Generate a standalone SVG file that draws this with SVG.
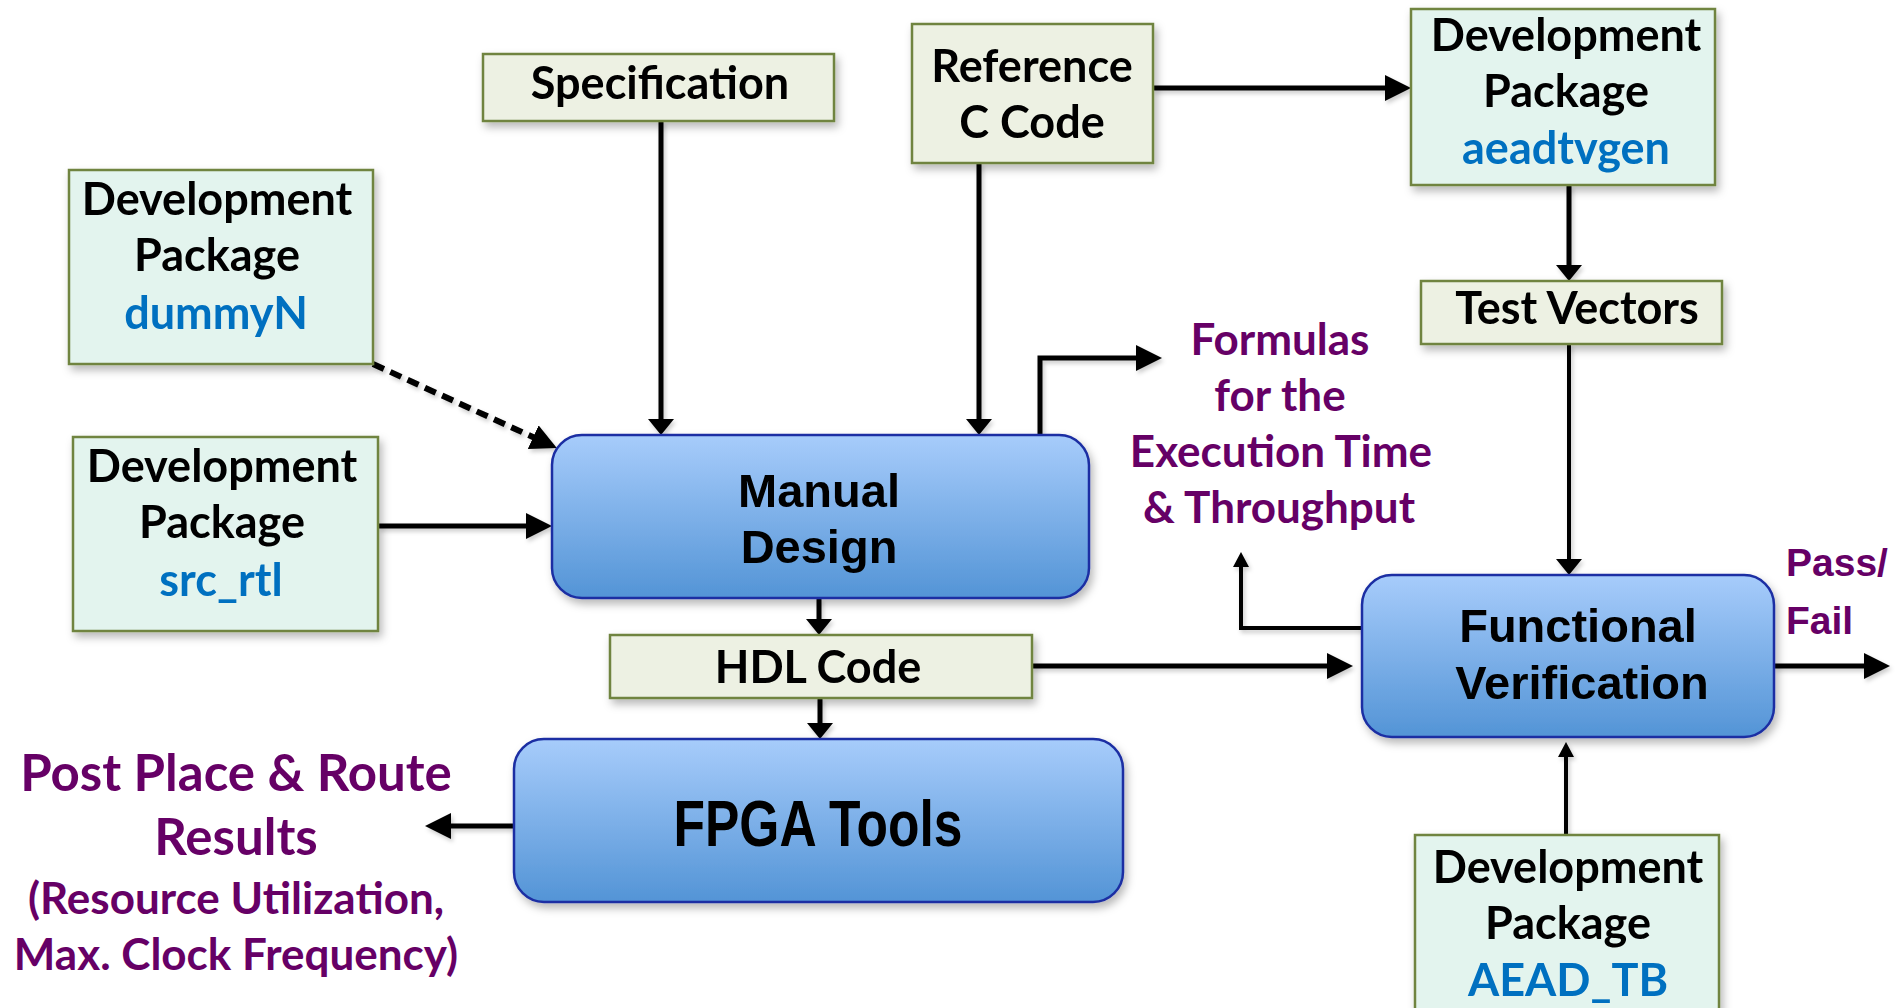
<svg xmlns="http://www.w3.org/2000/svg" width="1904" height="1008" viewBox="0 0 1904 1008">
  <defs>
    <linearGradient id="blueFill" x1="0" y1="0" x2="0" y2="1">
      <stop offset="0" stop-color="#A7CCFB"/>
      <stop offset="1" stop-color="#5394D6"/>
    </linearGradient>
    <filter id="shadow" x="-10%" y="-10%" width="130%" height="140%">
      <feDropShadow dx="3" dy="5" stdDeviation="4" flood-color="#000" flood-opacity="0.28"/>
    </filter>
    <filter id="lineShadow" x="-5%" y="-5%" width="110%" height="110%">
      <feDropShadow dx="2" dy="3" stdDeviation="2" flood-color="#000" flood-opacity="0.2"/>
    </filter>
    <!-- arrowheads: long, short and small -->
    <marker id="headLong" markerUnits="userSpaceOnUse" markerWidth="26" markerHeight="26" refX="2" refY="13" orient="auto">
      <path d="M0,0 L26,13 L0,26 z" fill="#000"/>
    </marker>
    <marker id="headShort" markerUnits="userSpaceOnUse" markerWidth="16" markerHeight="26" refX="2" refY="13" orient="auto">
      <path d="M0,0 L16,13 L0,26 z" fill="#000"/>
    </marker>
    <marker id="headSmall" markerUnits="userSpaceOnUse" markerWidth="15" markerHeight="16" refX="2" refY="8" orient="auto">
      <path d="M0,0 L15,8 L0,16 z" fill="#000"/>
    </marker>
  </defs>
  <style>
    .doc { fill: #EDF1E3; stroke: #6F8440; stroke-width: 2.5; }
    .pkg { fill: #E3F4EE; stroke: #6F8440; stroke-width: 2.5; }
    .proc { fill: url(#blueFill); stroke: #1B2FA3; stroke-width: 2.5; }
    .lbl { font-family: Lato, "Open Sans", sans-serif; font-weight: bold; font-size: 45px; fill: #000; text-anchor: middle; }
    .name { fill: #0070C0; }
    .out { font-family: Lato, "Open Sans", sans-serif; font-weight: bold; fill: #660066; text-anchor: middle; }
    .procLbl { font-family: "Liberation Sans", Arial, sans-serif; font-weight: bold; font-size: 47px; fill: #000; text-anchor: middle; }
    .big { font-size: 64px; }
    .wire { fill: none; stroke: #000; stroke-width: 5; }
    .thin { stroke-width: 4; }
    .dash { stroke-width: 6; stroke-dasharray: 12 7; }
  </style>

  <rect width="1904" height="1008" fill="#FFFFFF"/>

  <!-- connectors -->
  <g id="connectors" filter="url(#lineShadow)">
    <line class="wire" x1="661" y1="121" x2="661" y2="421" marker-end="url(#headShort)"/>
    <line class="wire" x1="979" y1="163" x2="979" y2="421" marker-end="url(#headShort)"/>
    <line class="wire" x1="1153" y1="88" x2="1387" y2="88" marker-end="url(#headLong)"/>
    <line class="wire" x1="1569" y1="185" x2="1569" y2="267" marker-end="url(#headShort)"/>
    <line class="wire thin" x1="1569" y1="344" x2="1569" y2="561" marker-end="url(#headShort)"/>
    <path class="wire" d="M1040,435 V358 H1138" marker-end="url(#headLong)"/>
    <line class="wire dash" x1="373" y1="364" x2="535" y2="438" marker-end="url(#headLong)"/>
    <line class="wire" x1="378" y1="526" x2="528" y2="526" marker-end="url(#headLong)"/>
    <line class="wire" x1="819" y1="598" x2="819" y2="621" marker-end="url(#headShort)"/>
    <line class="wire" x1="820" y1="698" x2="820" y2="725" marker-end="url(#headShort)"/>
    <line class="wire" x1="1032" y1="666" x2="1329" y2="666" marker-end="url(#headLong)"/>
    <path class="wire thin" d="M1362,628 H1241 V565" marker-end="url(#headSmall)"/>
    <line class="wire" x1="1774" y1="666" x2="1866" y2="666" marker-end="url(#headLong)"/>
    <line class="wire thin" x1="1566" y1="835" x2="1566" y2="755" marker-end="url(#headSmall)"/>
    <line class="wire" x1="514" y1="826" x2="449" y2="826" marker-end="url(#headLong)"/>
  </g>

  <g id="specification" filter="url(#shadow)">
    <rect class="doc" x="483" y="54" width="351" height="67"/>
    <text class="lbl" x="660" y="99">Specification</text>
  </g>

  <g id="reference-c-code" filter="url(#shadow)">
    <rect class="doc" x="912" y="24" width="241" height="139"/>
    <text class="lbl" x="1032" y="82">Reference</text>
    <text class="lbl" x="1032" y="138">C Code</text>
  </g>

  <g id="pkg-aeadtvgen" filter="url(#shadow)">
    <rect class="pkg" x="1411" y="9" width="304" height="176"/>
    <text class="lbl" x="1566" y="51">Development</text>
    <text class="lbl" x="1566" y="107">Package</text>
    <text class="lbl name" x="1566" y="164">aeadtvgen</text>
  </g>

  <g id="pkg-dummyN" filter="url(#shadow)">
    <rect class="pkg" x="69" y="170" width="304" height="194"/>
    <text class="lbl" x="217" y="215">Development</text>
    <text class="lbl" x="217" y="271">Package</text>
    <text class="lbl name" x="216" y="329">dummyN</text>
  </g>

  <g id="pkg-src_rtl" filter="url(#shadow)">
    <rect class="pkg" x="73" y="437" width="305" height="194"/>
    <text class="lbl" x="222" y="482">Development</text>
    <text class="lbl" x="222" y="538">Package</text>
    <text class="lbl name" x="221" y="596">src_rtl</text>
  </g>

  <g id="test-vectors" filter="url(#shadow)">
    <rect class="doc" x="1421" y="281" width="301" height="63"/>
    <text class="lbl" x="1577" y="324">Test Vectors</text>
  </g>

  <g id="manual-design" filter="url(#shadow)">
    <rect class="proc" x="552" y="435" width="537" height="163" rx="30" ry="30"/>
    <text class="procLbl" x="819" y="507">Manual</text>
    <text class="procLbl" x="819" y="563">Design</text>
  </g>

  <g id="hdl-code" filter="url(#shadow)">
    <rect class="doc" x="610" y="635" width="422" height="63"/>
    <text class="lbl" x="818" y="683">HDL Code</text>
  </g>

  <g id="fpga-tools" filter="url(#shadow)">
    <rect class="proc" x="514" y="739" width="609" height="163" rx="30" ry="30"/>
    <text class="procLbl big" x="818" y="846" textLength="289" lengthAdjust="spacingAndGlyphs">FPGA Tools</text>
  </g>

  <g id="functional-verification" filter="url(#shadow)">
    <rect class="proc" x="1362" y="575" width="412" height="162" rx="30" ry="30"/>
    <text class="procLbl" x="1578" y="642">Functional</text>
    <text class="procLbl" x="1582" y="699">Verification</text>
  </g>

  <g id="pkg-aead_tb" filter="url(#shadow)">
    <rect class="pkg" x="1415" y="835" width="304" height="190"/>
    <text class="lbl" x="1568" y="883">Development</text>
    <text class="lbl" x="1568" y="939">Package</text>
    <text class="lbl name" x="1568" y="996">AEAD_TB</text>
  </g>

  <g id="formulas-output">
    <text class="out" font-size="44" x="1280" y="355">Formulas</text>
    <text class="out" font-size="44" x="1280" y="411">for the</text>
    <text class="out" font-size="44" x="1281" y="467">Execution Time</text>
    <text class="out" font-size="44" x="1279" y="523">&amp; Throughput</text>
  </g>

  <g id="pass-fail-output">
    <text font-family="Liberation Sans, Arial, sans-serif" font-weight="bold" font-size="39" fill="#660066" x="1786" y="576">Pass/</text>
    <text font-family="Liberation Sans, Arial, sans-serif" font-weight="bold" font-size="39" fill="#660066" x="1786" y="634">Fail</text>
  </g>

  <g id="par-results-output">
    <text class="out" font-size="51" x="236" y="791">Post Place &amp; Route</text>
    <text class="out" font-size="51" x="236" y="855">Results</text>
    <text class="out" font-size="44" x="236" y="914">(Resource Utilization,</text>
    <text class="out" font-size="44" x="236" y="970">Max. Clock Frequency)</text>
  </g>
</svg>
